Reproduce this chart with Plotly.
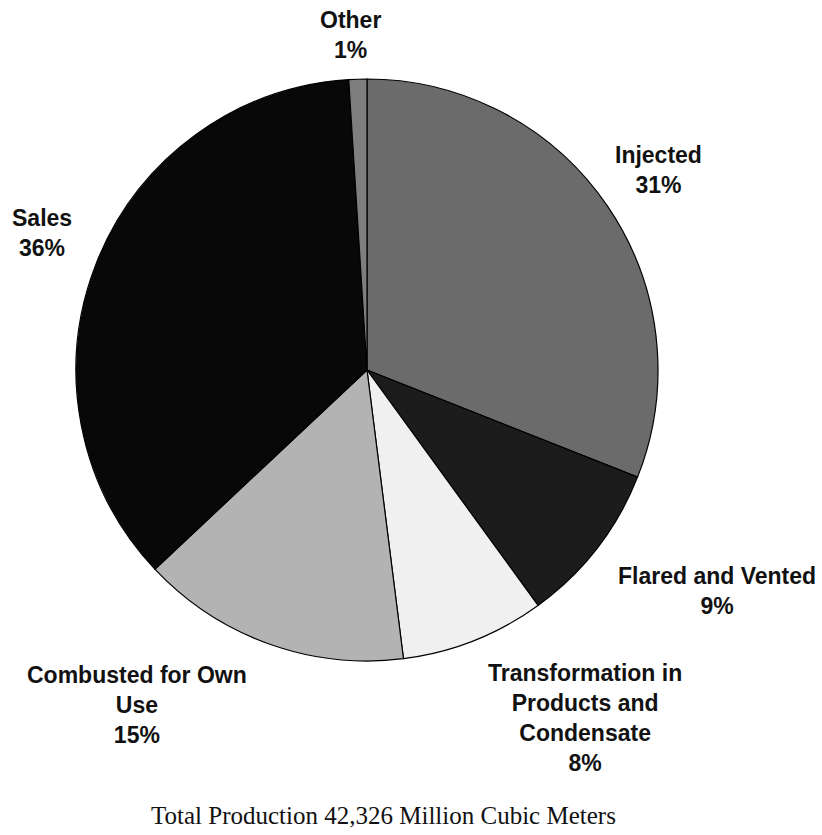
import plotly.graph_objects as go

# Data
labels = ["Injected", "Flared and Vented", "Transformation in Products and Condensate",
          "Combusted for Own Use", "Sales", "Other"]
label_lines = ["Injected", "Flared and Vented", "Transformation in<br>Products and<br>Condensate",
               "Combusted for Own<br>Use", "Sales", "Other"]
values = [31, 9, 8, 15, 36, 1]
colors = ["#6b6b6b", "#1c1c1c", "#f0f0f0", "#b3b3b3", "#080808", "#7e7e7e"]
title_text = "Total Production 42,326 Million Cubic Meters"

W, H = 822, 835
cx, cy, r = 367, 370, 291

fig = go.Figure(go.Pie(
    labels=labels, values=values, sort=False, direction="clockwise", rotation=0,
    marker=dict(colors=colors, line=dict(color="#000000", width=1.2)),
    textinfo="none", hoverinfo="label+percent", showlegend=False,
    domain=dict(x=[(cx - r) / W, (cx + r) / W], y=[1 - (cy + r) / H, 1 - (cy - r) / H]),
))

# label placement (pixel centers of each text block)
label_pos = [(658, 170), (717, 591), (585, 718), (137, 705), (42, 233), (350, 35)]
total = sum(values)
for txt, v, (px, py) in zip(label_lines, values, label_pos):
    fig.add_annotation(
        x=px / W, y=1 - py / H, xref="paper", yref="paper",
        text=f"<b>{txt}<br>{round(100 * v / total)}%</b>",
        showarrow=False, xanchor="center", yanchor="middle", align="center",
        font=dict(family="Liberation Sans, Arial, sans-serif", size=23, color="#111111"),
    )

fig.add_annotation(
    x=383 / W, y=1 - 815 / H, xref="paper", yref="paper", text=title_text,
    showarrow=False, xanchor="center", yanchor="middle",
    font=dict(family="Liberation Serif, Times New Roman, serif", size=25, color="#111111"),
)

fig.update_layout(
    width=W, height=H, margin=dict(l=0, r=0, t=0, b=0),
    paper_bgcolor="white", plot_bgcolor="white",
)
fig.write_html("out.html", config={"displayModeBar": False},
               post_script="document.body.style.margin='0';")
